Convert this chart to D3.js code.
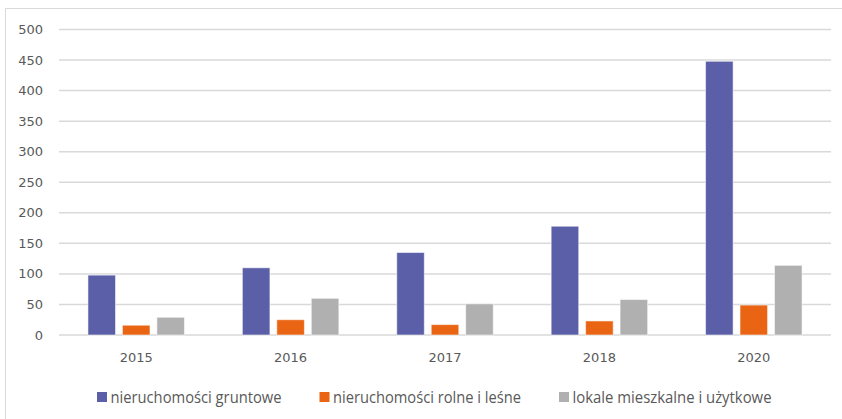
<!DOCTYPE html>
<html>
<head>
<meta charset="utf-8">
<script src="https://cdn.jsdelivr.net/npm/d3@7"></script>
<style>
  body { margin: 0; background: #fff; }
  svg { display: block; }
</style>
</head>
<body>
<div id="chart"></div>
<script>
// data
var years = ["2015", "2016", "2017", "2018", "2020"];
var seriesNames = ["nieruchomości gruntowe", "nieruchomości rolne i leśne", "lokale mieszkalne i użytkowe"];
var gruntowe = [98, 110, 135, 178, 448];
var rolne = [16, 25, 17, 23, 49];
var lokale = [29, 60, 51, 58, 114];
var yTicks = [0, 50, 100, 150, 200, 250, 300, 350, 400, 450, 500];

var colors = ["#5B5FA8", "#E96513", "#B0B0B0"];
var values = [gruntowe, rolne, lokale];

var W = 842, H = 419;
var plot = { left: 59, right: 831, top: 29.5, bottom: 335 };

var svg = d3.select("#chart").append("svg")
  .attr("width", W)
  .attr("height", H);

// outer frame (top and left edges visible)
svg.append("path")
  .attr("d", "M5.5," + H + "V8.5H" + W)
  .attr("fill", "none")
  .attr("stroke", "#d9d9d9")
  .attr("stroke-width", 1);

var y = d3.scaleLinear()
  .domain([0, 500])
  .range([plot.bottom, plot.top]);

var x0 = d3.scaleBand()
  .domain(years)
  .range([plot.left, plot.right])
  .padding(0);

var x1 = d3.scaleBand()
  .domain(d3.range(seriesNames.length))
  .range([0, x0.bandwidth()])
  .paddingInner(0.2)
  .paddingOuter(0.84);

// gridlines
svg.append("g").selectAll("line")
  .data(yTicks)
  .enter().append("line")
  .attr("x1", plot.left)
  .attr("x2", plot.right)
  .attr("y1", function (d) { return y(d); })
  .attr("y2", function (d) { return y(d); })
  .attr("stroke", "#d9d9d9")
  .attr("stroke-width", 1.5);

// y axis labels
svg.append("g").selectAll("text")
  .data(yTicks)
  .enter().append("text")
  .attr("x", 43)
  .attr("y", function (d) { return y(d); })
  .attr("dy", "0.35em")
  .attr("text-anchor", "end")
  .attr("font-family", "DejaVu Sans")
  .attr("font-size", 13)
  .attr("fill", "#595959")
  .text(function (d) { return d; });

// bars
var groups = svg.append("g").selectAll("g")
  .data(years)
  .enter().append("g")
  .attr("transform", function (d) { return "translate(" + x0(d) + ",0)"; });

groups.selectAll("rect")
  .data(function (d, i) {
    return values.map(function (v, s) { return { s: s, v: v[i] }; });
  })
  .enter().append("rect")
  .attr("x", function (d) { return x1(d.s); })
  .attr("y", function (d) { return y(d.v); })
  .attr("width", x1.bandwidth())
  .attr("height", function (d) { return y(0) - y(d.v); })
  .attr("fill", function (d) { return colors[d.s]; })
  .attr("stroke", "rgba(255,255,255,0.55)")
  .attr("stroke-width", 1);

// x axis labels
svg.append("g").selectAll("text")
  .data(years)
  .enter().append("text")
  .attr("x", function (d) { return x0(d) + x0.bandwidth() / 2; })
  .attr("y", 357)
  .attr("dy", "0.35em")
  .attr("text-anchor", "middle")
  .attr("font-family", "DejaVu Sans")
  .attr("font-size", 13)
  .attr("fill", "#595959")
  .text(function (d) { return d; });

// legend
var legendX = [97, 319.5, 559];
var legendLen = [171, 188, 199];
var legend = svg.append("g").selectAll("g")
  .data(seriesNames)
  .enter().append("g")
  .attr("transform", function (d, i) { return "translate(" + legendX[i] + ",392)"; });

legend.append("rect")
  .attr("width", 10)
  .attr("height", 10)
  .attr("fill", function (d, i) { return colors[i]; });

legend.append("text")
  .attr("x", 13.5)
  .attr("y", 5)
  .attr("dy", "0.35em")
  .attr("font-family", "'Open Sans', sans-serif")
  .attr("font-size", 16)
  .attr("textLength", function (d, i) { return legendLen[i]; })
  .attr("lengthAdjust", "spacingAndGlyphs")
  .attr("fill", "#595959")
  .text(function (d) { return d; });
</script>
</body>
</html>
